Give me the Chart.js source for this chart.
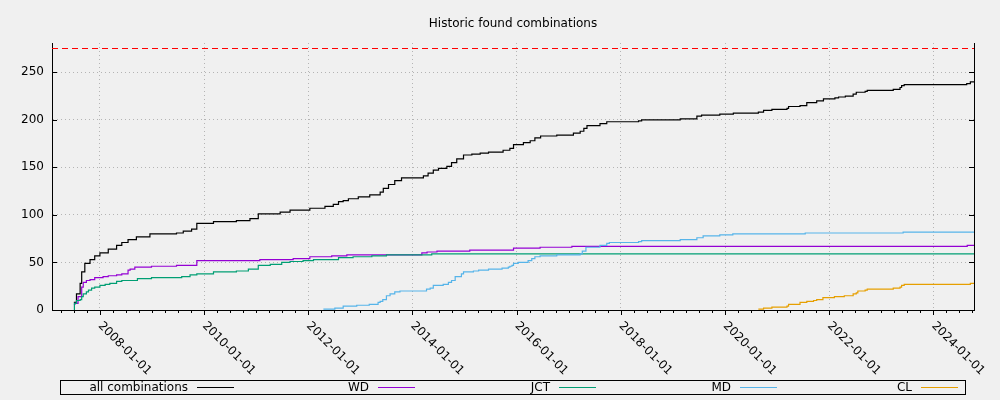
<!DOCTYPE html>
<html>
<head>
<meta charset="utf-8">
<script src="https://cdn.jsdelivr.net/npm/chart.js@4.4.0/dist/chart.umd.min.js"></script>
<style>
  html, body { margin: 0; padding: 0; background: #f0f0f0; }
  #wrap { width: 1000px; height: 400px; }
</style>
</head>
<body>
<div id="wrap"><canvas id="combChart"></canvas></div>
<script>
// x axis in decimal years
const xMin = 2007.08;
const xMax = 2024.78;
const xTickYears = [2008, 2010, 2012, 2014, 2016, 2018, 2020, 2022, 2024];
const yTicks = [0, 50, 100, 150, 200, 250];
const yMax = 280.8;
const limitValue = 275;

const seriesNames = ['all combinations', 'WD', 'JCT', 'MD', 'CL'];
const seriesColors = ['#000000', '#9400d3', '#009e73', '#56b4e9', '#e69f00'];

const allYears = [2007.50, 2007.55, 2007.62, 2007.65, 2007.71, 2007.81, 2007.90, 2008.00, 2008.16, 2008.32,
  2008.42, 2008.54, 2008.70, 2008.96, 2009.47, 2009.60, 2009.76, 2009.86, 2010.18, 2010.62,
  2010.88, 2011.04, 2011.46, 2011.65, 2012.03, 2012.32, 2012.48, 2012.58, 2012.67, 2012.77,
  2012.96, 2013.18, 2013.38, 2013.44, 2013.54, 2013.66, 2013.79, 2014.21, 2014.30, 2014.40,
  2014.50, 2014.66, 2014.75, 2014.85, 2014.98, 2015.14, 2015.30, 2015.46, 2015.74, 2015.87,
  2015.94, 2016.13, 2016.26, 2016.35, 2016.46, 2016.77, 2017.09, 2017.22, 2017.29, 2017.35,
  2017.60, 2017.73, 2018.34, 2018.40, 2019.14, 2019.46, 2019.55, 2019.90, 2020.16, 2020.64,
  2020.74, 2020.90, 2021.19, 2021.22, 2021.44, 2021.57, 2021.76, 2021.89, 2022.11, 2022.18,
  2022.31, 2022.46, 2022.52, 2022.69, 2022.73, 2023.23, 2023.36, 2023.39, 2023.44, 2024.64,
  2024.71, 2024.78];
const allCounts = [8, 17, 28, 40, 49, 53, 57, 60, 64, 68,
  71, 74, 77, 80, 81, 83, 85, 91, 93, 94,
  96, 101, 103, 105, 107, 109, 111, 114, 115, 117,
  119, 121, 124, 128, 132, 136, 139, 141, 144, 147,
  149, 151, 155, 159, 163, 164, 165, 166, 168, 170,
  174, 176, 178, 181, 183, 184, 186, 188, 191, 194,
  196, 198, 199, 200, 201, 204, 205, 206, 207, 208,
  210, 211, 212, 214, 215, 218, 220, 222, 223, 224,
  225, 227, 229, 230, 231, 232, 234, 236, 237, 238,
  240, 240];

const wdYears = [2007.50, 2007.52, 2007.58, 2007.65, 2007.68, 2007.74, 2007.81, 2007.90,
  2008.06, 2008.16, 2008.32, 2008.42, 2008.54, 2008.58, 2008.67, 2008.99, 2009.47, 2009.86,
  2011.07, 2011.71, 2012.03, 2012.45, 2012.74, 2014.18, 2014.28, 2014.47, 2015.10, 2015.94,
  2016.45, 2017.06, 2024.65, 2024.78];
const wdCounts = [6, 7, 14, 24, 29, 31, 32, 34,
  35, 36, 37, 38, 42, 43, 45, 46, 47, 52,
  53, 54, 56, 57, 58, 60, 61, 62, 63, 65,
  66, 67, 68, 68];

const jctYears = [2007.50, 2007.51, 2007.55, 2007.62, 2007.65, 2007.68, 2007.74, 2007.78, 2007.84, 2007.90,
  2008.00, 2008.10, 2008.19, 2008.32, 2008.42, 2008.72, 2008.99, 2009.57, 2009.73, 2009.86,
  2010.18, 2010.62, 2010.85, 2011.04, 2011.27, 2011.49, 2011.65, 2011.90, 2012.10, 2012.58,
  2012.86, 2013.22, 2013.50, 2014.37, 2024.78];
const jctCounts = [0, 7, 10, 11, 14, 17, 19, 21, 23, 24,
  26, 27, 28, 30, 31, 33, 34, 35, 37, 38,
  40, 41, 43, 47, 48, 50, 51, 52, 53, 55,
  56, 57, 58, 59, 59];

const mdYears = [2012.29, 2012.51, 2012.67, 2012.93, 2013.17, 2013.34, 2013.38, 2013.43, 2013.50, 2013.57,
  2013.66, 2013.76, 2014.27, 2014.34, 2014.40, 2014.59, 2014.69, 2014.75, 2014.82, 2014.94,
  2014.98, 2015.17, 2015.27, 2015.46, 2015.72, 2015.84, 2015.87, 2015.91, 2015.94, 2016.03,
  2016.22, 2016.29, 2016.35, 2016.45, 2016.77, 2017.22, 2017.26, 2017.33, 2017.60, 2017.73,
  2017.78, 2018.34, 2018.40, 2019.14, 2019.46, 2019.58, 2019.90, 2020.15, 2021.54, 2023.42,
  2024.78];
const mdCounts = [1, 2, 4, 5, 6, 8, 9, 11, 15, 17,
  19, 20, 22, 23, 26, 27, 29, 31, 35, 38,
  40, 41, 42, 43, 44, 45, 46, 47, 49, 50,
  52, 54, 56, 57, 58, 59, 62, 66, 68, 70,
  71, 72, 73, 74, 76, 78, 79, 80, 81, 82,
  82];

const clYears = [2020.64, 2020.74, 2020.90, 2021.19, 2021.22, 2021.44, 2021.57, 2021.70, 2021.76, 2021.88,
  2022.10, 2022.29, 2022.46, 2022.52, 2022.55, 2022.69, 2022.73, 2023.23, 2023.36, 2023.39,
  2023.44, 2024.71, 2024.78];
const clCounts = [1, 2, 3, 4, 6, 8, 9, 10, 11, 13,
  14, 15, 17, 18, 20, 21, 22, 23, 24, 26,
  27, 28, 28];

const FONT = '"DejaVu Sans", "Liberation Sans", sans-serif';

function pairs(xs, ys) {
  return xs.map((x, i) => ({ x: x, y: ys[i] }));
}

function series(idx, xs, ys) {
  return {
    label: seriesNames[idx],
    data: pairs(xs, ys),
    borderColor: seriesColors[idx],
    backgroundColor: seriesColors[idx],
    borderWidth: 1.2,
    stepped: true,
    pointRadius: 0,
    fill: false,
    order: 5 - idx, // later series on top, like gnuplot
  };
}

// gnuplot-like decorations: rotated labels, minor ticks, title, legend box
const gnuplotDecor = {
  id: 'gnuplotDecor',
  afterDraw(chart) {
    const { ctx, chartArea: a, scales: { x, y } } = chart;
    ctx.save();
    ctx.strokeStyle = '#000';
    ctx.lineWidth = 1;
    ctx.setLineDash([]);

    // right border
    ctx.beginPath();
    ctx.moveTo(Math.round(a.right) + 0.5, a.top);
    ctx.lineTo(Math.round(a.right) + 0.5, a.bottom);
    ctx.stroke();

    // y ticks, inward on both sides
    ctx.beginPath();
    yTicks.forEach(v => {
      const py = Math.round(y.getPixelForValue(v)) + 0.5;
      ctx.moveTo(a.left, py); ctx.lineTo(a.left + 5, py);
      ctx.moveTo(a.right, py); ctx.lineTo(a.right - 5, py);
    });
    ctx.stroke();

    // x ticks, quarterly minor, outward
    ctx.beginPath();
    for (let k = Math.ceil(xMin * 4); k <= Math.floor(xMax * 4); k++) {
      const px = Math.round(x.getPixelForValue(k / 4)) + 0.5;
      const len = (k % 8 === 0) ? 5 : 3;
      ctx.moveTo(px, a.bottom);
      ctx.lineTo(px, a.bottom + len);
    }
    ctx.stroke();

    // rotated x labels
    ctx.fillStyle = '#000';
    ctx.font = '12px ' + FONT;
    xTickYears.forEach(yr => {
      const px = x.getPixelForValue(yr);
      ctx.save();
      ctx.translate(px, a.bottom + 14);
      ctx.rotate(Math.PI / 4);
      ctx.textAlign = 'left';
      ctx.textBaseline = 'middle';
      ctx.fillText(yr + '-01-01', 0, 0);
      ctx.restore();
    });

    // title
    ctx.textAlign = 'center';
    ctx.textBaseline = 'middle';
    ctx.fillText('Historic found combinations', (a.left + a.right) / 2, 23.5);

    // legend
    ctx.strokeStyle = '#000';
    ctx.strokeRect(60.5, 380.5, 905, 14);
    seriesNames.forEach((name, i) => {
      const right = 188 + i * 181;
      ctx.fillStyle = '#000';
      ctx.textAlign = 'right';
      ctx.fillText(name, right, 388);
      ctx.fillStyle = seriesColors[i];
      ctx.fillRect(right + 9, 387, 37, 1);
    });
    ctx.restore();
  }
};

const ctx = document.getElementById('combChart').getContext('2d');
const combChart = new Chart(ctx, {
  type: 'line',
  data: {
    datasets: [
      series(0, allYears, allCounts),
      series(1, wdYears, wdCounts),
      series(2, jctYears, jctCounts),
      series(3, mdYears, mdCounts),
      series(4, clYears, clCounts),
      {
        label: 'limit',
        data: [{ x: xMin, y: limitValue }, { x: xMax, y: limitValue }],
        borderColor: '#ff0000',
        borderWidth: 1,
        borderDash: [6, 4],
        pointRadius: 0,
        fill: false,
        order: 10,
      },
    ],
  },
  options: {
    responsive: true,
    maintainAspectRatio: false,
    animation: false,
    layout: { padding: { top: 43, right: 26, left: 0, bottom: 0 } },
    scales: {
      x: {
        type: 'linear',
        min: xMin,
        max: xMax,
        afterBuildTicks: s => { s.ticks = xTickYears.map(v => ({ value: v })); },
        afterFit: s => { s.height = 90; },
        ticks: { display: false },
        grid: { color: '#b4b4b4', lineWidth: 1, drawTicks: false },
        border: { display: true, color: '#000', width: 1, dash: [1, 3] },
      },
      y: {
        min: 0,
        max: yMax,
        afterBuildTicks: s => { s.ticks = yTicks.map(v => ({ value: v })); },
        afterFit: s => { s.width = 52; },
        ticks: { color: '#000', padding: 8, font: { family: FONT, size: 12 } },
        grid: { color: '#b4b4b4', lineWidth: 1, drawTicks: false },
        border: { display: true, color: '#000', width: 1, dash: [1, 3] },
      },
    },
    plugins: {
      legend: { display: false },
      title: { display: false },
      tooltip: { enabled: false },
    },
  },
  plugins: [gnuplotDecor],
});
</script>
</body>
</html>
